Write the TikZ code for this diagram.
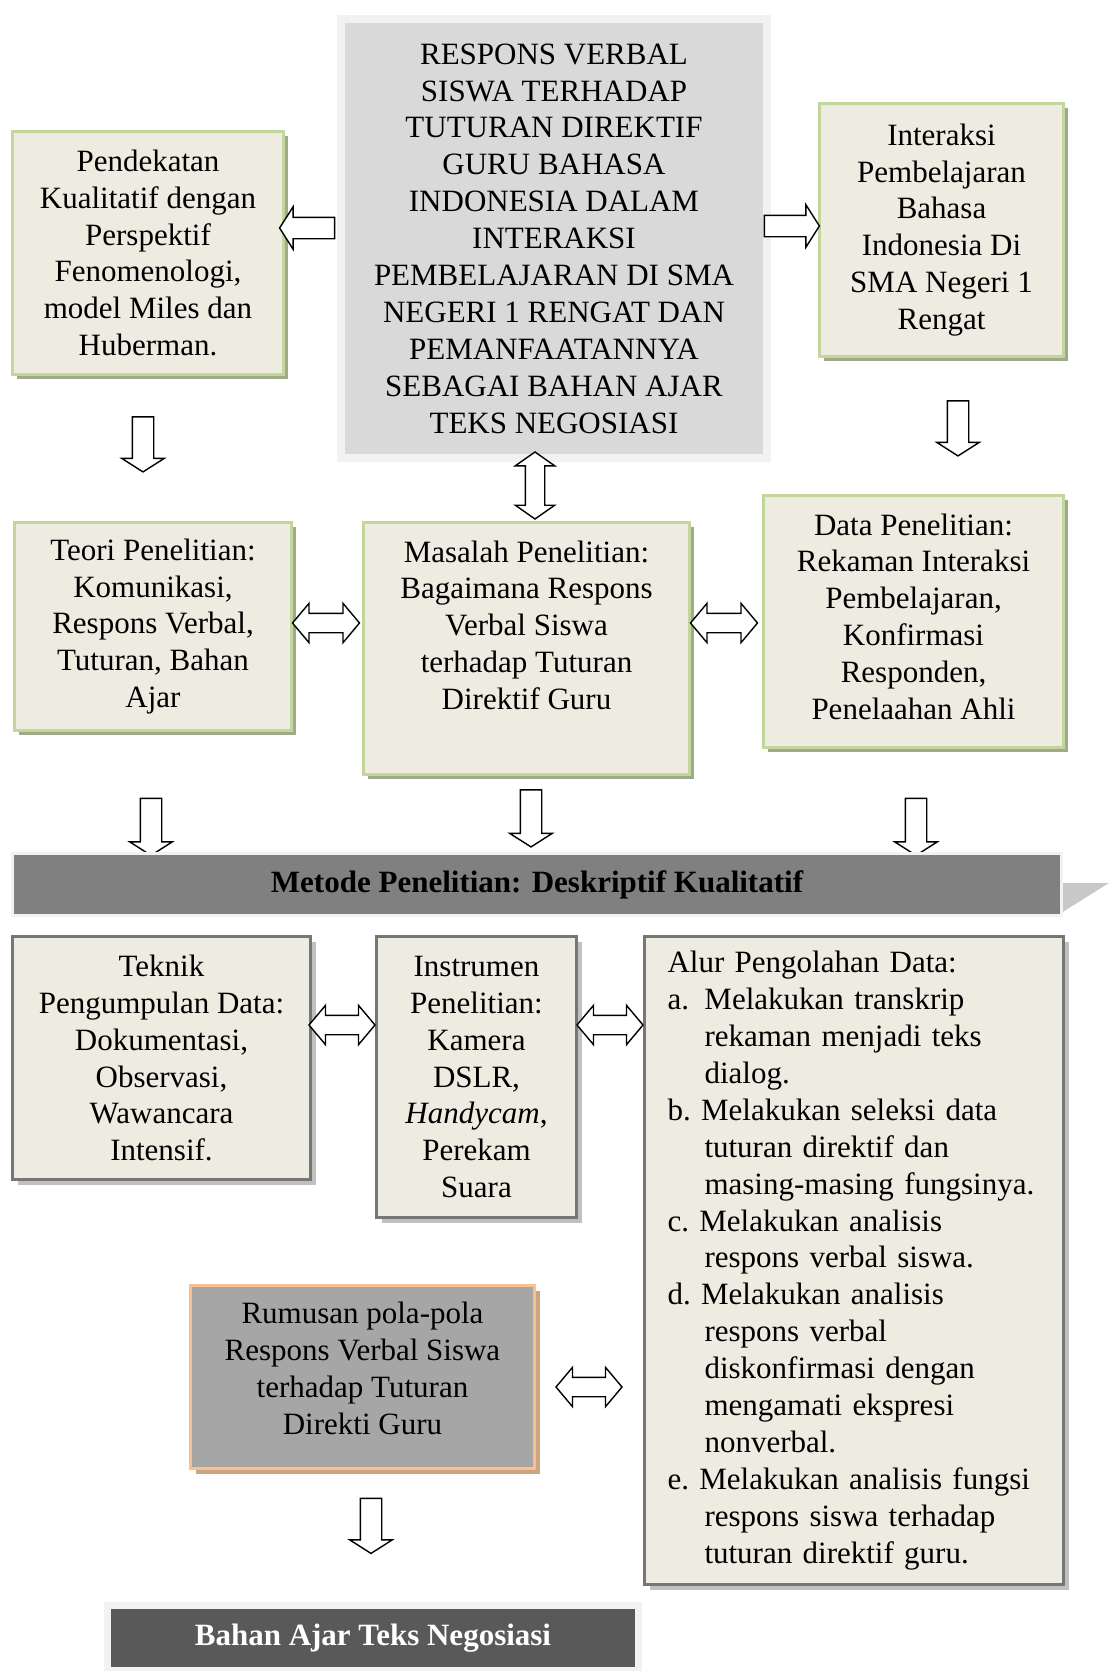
\documentclass[tikz,border=0pt]{standalone}
\usepackage{fontspec}
\setmainfont{Liberation Serif}
\usetikzlibrary{shapes.arrows, shadows}
\definecolor{boxfill}{RGB}{238,236,225}
\definecolor{grnline}{RGB}{195,214,155}
\definecolor{grnshadow}{RGB}{160,170,137}
\definecolor{greyline}{RGB}{118,118,118}
\definecolor{greyshadow}{RGB}{192,192,192}
\definecolor{titlefill}{RGB}{217,217,217}
\definecolor{framegrey}{RGB}{242,242,242}
\definecolor{bannerfill}{RGB}{128,128,128}
\definecolor{wedgegrey}{RGB}{200,200,200}
\definecolor{rumusfill}{RGB}{166,166,166}
\definecolor{orangeline}{RGB}{250,192,144}
\definecolor{brownshadow}{RGB}{201,165,131}
\definecolor{bahanfill}{RGB}{89,89,89}

\begin{document}
\begin{tikzpicture}[x=1pt, y=-1pt,
    txt/.style={font=\fontsize{31}{36.9}\selectfont, align=center, inner sep=0pt, anchor=north west},
    greenbox/.style={txt, draw=grnline, line width=3pt, fill=boxfill,
        drop shadow={shadow xshift=4pt, shadow yshift=-4pt, fill=grnshadow, opacity=1}},
    greybox/.style={txt, draw=greyline, line width=3pt, fill=boxfill,
        drop shadow={shadow xshift=5pt, shadow yshift=-5pt, fill=greyshadow, opacity=1}},
    blockarr/.style={single arrow, draw=black, fill=white, line width=1.4pt, inner xsep=0pt, inner ysep=10pt,
        single arrow head extend=10.5pt, single arrow tip angle=115, minimum height=55pt},
    dblarr/.style={double arrow, draw=black, fill=white, line width=1.4pt, inner xsep=0pt, inner ysep=9pt,
        double arrow head extend=10pt, double arrow tip angle=100, minimum height=67pt}
  ]
  \useasboundingbox[fill=white] (0,0) rectangle (1109,1671);

  % top row
  \node[txt, draw=framegrey, line width=8pt, fill=titlefill, minimum width=426pt, minimum height=439pt,
        drop shadow={shadow xshift=4pt, shadow yshift=-4pt, fill=grnshadow, opacity=1}]
    (title) at (337,15) {RESPONS VERBAL\\ SISWA TERHADAP\\ TUTURAN DIREKTIF\\ GURU BAHASA\\ INDONESIA DALAM\\
    INTERAKSI\\ PEMBELAJARAN DI SMA\\ NEGERI 1 RENGAT DAN\\ PEMANFAATANNYA\\ SEBAGAI BAHAN AJAR\\ TEKS NEGOSIASI};
  \node[greenbox, minimum width=271pt, minimum height=243pt] (pend) at (11,130)
    {Pendekatan\\ Kualitatif dengan\\ Perspektif\\ Fenomenologi,\\ model Miles dan\\ Huberman.};
  \node[greenbox, minimum width=244pt, minimum height=253pt] (inter) at (818,102)
    {Interaksi\\ Pembelajaran\\ Bahasa\\ Indonesia Di\\ SMA Negeri 1\\ Rengat};

  \node[blockarr, rotate=180] (a1) at (310.5,228) {};
  \node[blockarr] (a2) at (788.5,226) {};
  \node[blockarr, rotate=-90] (a3) at (143,441) {};
  \node[blockarr, rotate=-90] (a4) at (958,425) {};
  \node[dblarr, rotate=90, double arrow tip angle=110, minimum height=67pt] (a5) at (535,485.5) {};

  % second row
  \node[greenbox, minimum width=277pt, minimum height=208pt] (teori) at (13,521)
    {Teori Penelitian:\\ Komunikasi,\\ Respons Verbal,\\ Tuturan, Bahan\\ Ajar};
  \node[greenbox, minimum width=326pt, minimum height=252pt] (masalah) at (362,521)
    {Masalah Penelitian:\\ Bagaimana Respons\\ Verbal Siswa\\ terhadap Tuturan\\ Direktif Guru\\[10pt] \mbox{}};
  \node[greenbox, minimum width=300pt, minimum height=252pt] (data) at (762,494)
    {Data Penelitian:\\ Rekaman Interaksi\\ Pembelajaran,\\ Konfirmasi\\ Responden,\\ Penelaahan Ahli\\[-27pt]};

  \node[dblarr] (a6) at (326,623) {};
  \node[dblarr] (a7) at (724,623) {};
  \node[blockarr, rotate=-90, minimum height=57pt] (a8) at (151,823.5) {};
  \node[blockarr, rotate=-90, minimum height=57pt] (a9) at (531,815) {};
  \node[blockarr, rotate=-90, minimum height=57pt] (a10) at (916,823.5) {};

  % metode banner
  \fill[wedgegrey] (1061,883) -- (1109,883) -- (1061,913) -- cycle;
  \node[txt, draw=framegrey, line width=3pt, fill=bannerfill, minimum width=1049pt, minimum height=62pt,
        font=\fontsize{31}{36.9}\selectfont\bfseries] (metode) at (11,852)
    {Metode Penelitian: Deskriptif Kualitatif};

  % third row
  \node[greybox, minimum width=298pt, minimum height=243pt] (teknik) at (11,935)
    {Teknik\\ Pengumpulan Data:\\ Dokumentasi,\\ Observasi,\\ Wawancara\\ Intensif.};
  \node[greybox, minimum width=200pt, minimum height=281pt] (instr) at (375,935)
    {Instrumen\\ Penelitian:\\ Kamera\\ DSLR,\\ \textit{Handycam},\\ Perekam\\ Suara};
  \node[greybox, minimum width=419pt, minimum height=648pt, align=left, text width=373pt, inner xsep=23pt] (alur) at (643,935)
    {Alur Pengolahan Data:\\
     \makebox[37pt][l]{a.}Melakukan transkrip\\
     \hspace*{37pt}rekaman menjadi teks\\
     \hspace*{37pt}dialog.\\
     b.\ Melakukan seleksi data\\
     \hspace*{37pt}tuturan direktif dan\\
     \hspace*{37pt}masing-masing fungsinya.\\
     c.\ Melakukan analisis\\
     \hspace*{37pt}respons verbal siswa.\\
     d.\ Melakukan analisis\\
     \hspace*{37pt}respons verbal\\
     \hspace*{37pt}diskonfirmasi dengan\\
     \hspace*{37pt}mengamati ekspresi\\
     \hspace*{37pt}nonverbal.\\
     e.\ Melakukan analisis fungsi\\
     \hspace*{37pt}respons siswa terhadap\\
     \hspace*{37pt}tuturan direktif guru.};

  \node[dblarr, minimum height=66pt] (a11) at (342,1025) {};
  \node[dblarr, minimum height=66pt] (a12) at (610,1025) {};

  % rumusan and bahan ajar
  \node[txt, draw=orangeline, line width=3pt, fill=rumusfill, minimum width=344pt, minimum height=183pt,
        drop shadow={shadow xshift=5pt, shadow yshift=-5pt, fill=brownshadow, opacity=1}] (rumus) at (189,1284)
    {Rumusan pola-pola\\ Respons Verbal Siswa\\ terhadap Tuturan\\ Direkti Guru\\[-20pt]};
  \node[dblarr, minimum height=66pt] (a13) at (589,1387) {};
  \node[blockarr] (a14) [rotate=-90] at (371,1522.5) {};

  \draw[brownshadow, line width=2pt] (640,1612) -- (640,1671);
  \node[txt, draw=framegrey, line width=7pt, fill=bahanfill, text=white, minimum width=531pt, minimum height=65pt,
        font=\fontsize{31}{36.9}\selectfont\bfseries] (bahan) at (104,1602)
    {Bahan Ajar Teks Negosiasi};
\end{tikzpicture}
\end{document}
